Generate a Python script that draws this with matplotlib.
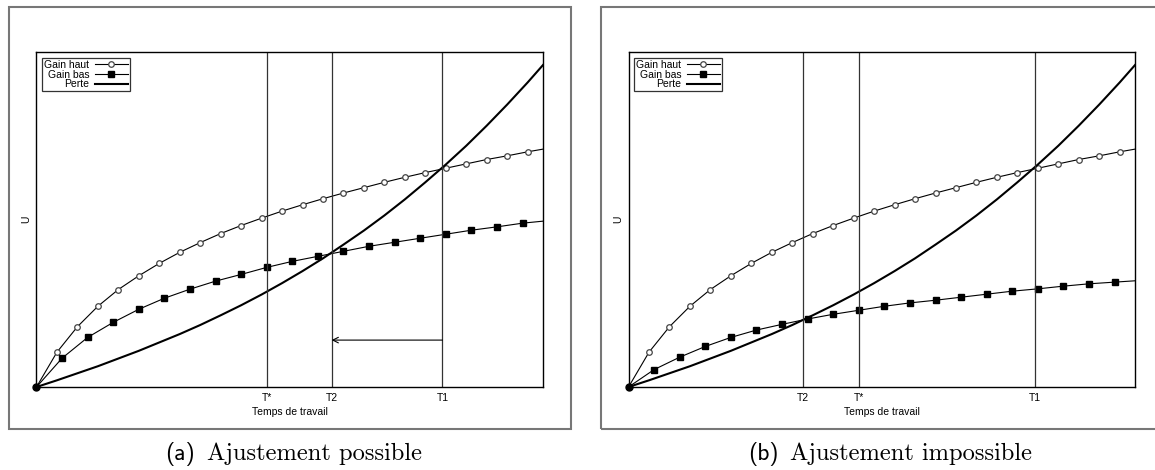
import matplotlib
matplotlib.use("Agg")
import matplotlib.pyplot as plt
from matplotlib.patches import Rectangle

plt.rcParams['font.family'] = ['Liberation Sans', 'DejaVu Sans']

# courbes (U en % de la hauteur de l'axe)
x_haut = [0, 1, 2, 3, 4, 5, 6, 7, 8, 9, 10, 11, 12, 13, 14, 15, 16, 17, 18,
          19, 20, 21, 22, 23, 24, 24.75]
gain_haut = [0, 10.4, 18.0, 24.1, 29.1, 33.2, 36.9, 40.2, 43.1, 45.8, 48.2,
             50.4, 52.5, 54.4, 56.2, 57.9, 59.5, 61.1, 62.6, 64.0, 65.3,
             66.6, 67.9, 69.0, 70.2, 71.0]

x_bas = [0, 1.25, 2.5, 3.75, 5, 6.25, 7.5, 8.75, 10, 11.25, 12.5, 13.75, 15,
         16.25, 17.5, 18.75, 20, 21.25, 22.5, 23.75, 24.75]
gain_bas_a = [0, 8.6, 14.8, 19.3, 23.2, 26.5, 29.2, 31.6, 33.6, 35.7, 37.5,
              39.0, 40.5, 42.0, 43.2, 44.4, 45.6, 46.8, 47.8, 48.9, 49.5]
gain_bas_b = [0, 5.2, 8.9, 12.1, 14.8, 17.0, 18.7, 20.3, 21.7, 22.9, 24.1,
              25.1, 25.9, 26.8, 27.7, 28.6, 29.3, 30.1, 30.8, 31.3, 31.7]

x_perte = [0, 1, 2, 3, 4, 5, 6, 7, 8, 9, 10, 11, 12, 13, 14, 15, 16, 17, 18,
           19, 20, 21, 22, 23, 24, 24.75]
perte = [0, 2.0, 4.1, 6.2, 8.5, 10.8, 13.3, 15.8, 18.5, 21.4, 24.4, 27.6,
         31.0, 34.6, 38.4, 42.5, 46.7, 51.2, 56.0, 61.1, 66.4, 72.0, 78.0,
         84.3, 90.9, 96.1]

t_star = 11.26
t1 = 19.84
t2_a = 14.42
t2_b = 8.54
fleche_y = 14.0

x_max = 24.75
y_max = 100


def panel(fig, left, gain_bas, t2, lettre, titre, cap_x, arrow=False):
    ax = fig.add_axes([left, 0.1766, 0.4385, 0.7128])
    ax.plot(x_haut, gain_haut, color='black', lw=0.8, marker='o', ms=4.0,
            mfc='white', mec='#444444', mew=0.9, markevery=slice(1, -1),
            label='Gain haut')
    ax.plot(x_bas, gain_bas, color='black', lw=0.8, marker='s', ms=4.2,
            mfc='black', mec='black', markevery=slice(1, -1),
            label='Gain bas')
    ax.plot(x_perte, perte, color='black', lw=1.5, label='Perte')
    ax.plot([0], [0], 'o', color='black', ms=5, clip_on=False)

    ticks = sorted([(t_star, 'T*'), (t2, 'T2'), (t1, 'T1')])
    for t, _ in ticks:
        ax.axvline(t, color='#333333', lw=0.9)
    if arrow:
        ax.annotate('', xy=(t2, fleche_y), xytext=(t1, fleche_y),
                    arrowprops=dict(arrowstyle='->', lw=0.8, color='black',
                                    shrinkA=0, shrinkB=0,
                                    mutation_scale=10))

    ax.set_xlim(0, x_max)
    ax.set_ylim(0, y_max)
    ax.set_xticks([t for t, _ in ticks])
    ax.set_xticklabels([s for _, s in ticks], fontsize=7.5)
    ax.set_yticks([])
    ax.tick_params(axis='x', length=0, pad=4.5)
    ax.set_xlabel('Temps de travail', fontsize=7.5, labelpad=3)
    ax.set_ylabel('U', fontsize=7.5, labelpad=4)
    for s in ax.spines.values():
        s.set_linewidth(1.0)

    leg = ax.legend(loc='upper left', fontsize=7.5, markerfirst=False,
                    frameon=True, fancybox=False, handlelength=3.2,
                    handletextpad=0.5, labelspacing=-0.02, borderpad=0.2,
                    borderaxespad=0.55)
    leg.get_frame().set_edgecolor('black')
    leg.get_frame().set_linewidth(0.9)

    fig.text(cap_x, 0.0213, lettre, fontsize=17, family='cmss10',
             ha='left', va='baseline')
    fig.text(cap_x + 0.0364, 0.0213, titre, fontsize=17.6, family='cmr10',
             ha='left', va='baseline')
    return ax


fig = plt.figure(figsize=(11.55, 4.70), dpi=100)

# cadres gris autour des deux sous-figures
fig.patches.append(Rectangle((9 / 1155, 1 - 429 / 470), 562 / 1155, 422 / 470,
                             transform=fig.transFigure, fill=False,
                             edgecolor='#777777', lw=1.5))
fig.patches.append(Rectangle((601 / 1155, 1 - 429 / 470), 562 / 1155, 422 / 470,
                             transform=fig.transFigure, fill=False,
                             edgecolor='#777777', lw=1.5))

panel(fig, 0.0316, gain_bas_a, t2_a, '(a)', 'Ajustement possible', 0.1429,
      arrow=True)
panel(fig, 0.5442, gain_bas_b, t2_b, '(b)', 'Ajustement impossible', 0.6476)

fig.savefig('out.png', dpi=100)
